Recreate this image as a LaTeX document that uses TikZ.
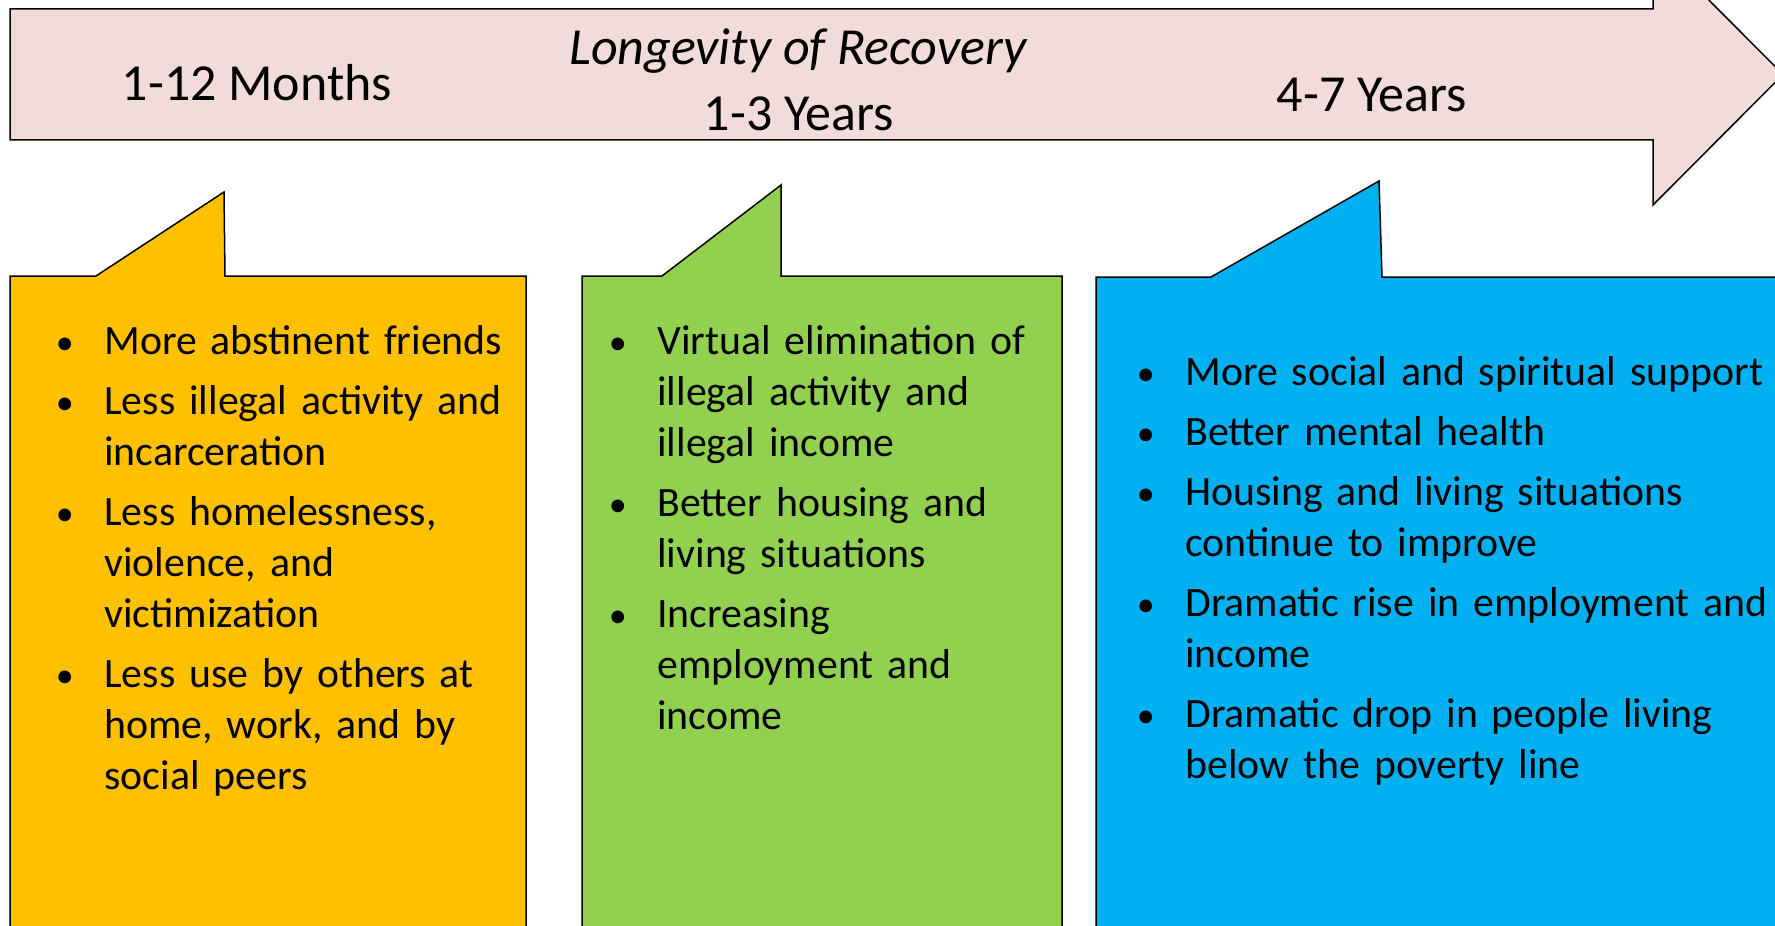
\documentclass[tikz,border=0pt]{standalone}
\usepackage{fontspec}
\setmainfont{Carlito}
\usepackage{tikz}

\definecolor{arrowpink}{HTML}{F2DCDB}
\definecolor{boxorange}{HTML}{FFC000}
\definecolor{boxgreen}{HTML}{92D050}
\definecolor{boxblue}{HTML}{00B0F0}

%Aufzaehlungspunkt links neben dem Text
\newcommand{\bul}{\leavevmode\llap{\makebox[0pt][c]{\fontsize{18pt}{18pt}\selectfont\textbullet}\hspace{19.75pt}}}

\tikzset{
	outline/.style={draw=black, line width=0.75pt, line join=miter},
	titletext/.style={font=\fontsize{26pt}{31pt}\selectfont, inner sep=0pt, anchor=base},
	listtext/.style={font=\fontsize{20.9pt}{25.5pt}\selectfont, inner sep=0pt, anchor=base west, align=left}
}

\begin{document}
\begin{tikzpicture}
		[
		x=0.5pt, y=-0.5pt, line cap=butt
		%Koordinaten in Bildpunkten, y nach unten
		]
		
		\useasboundingbox (0,0) rectangle (1775,925);
		\clip (0,0) rectangle (1775,925);
		
		%Zeitpfeil
		\filldraw[outline, fill=arrowpink] (10,9) -- (1653,9) -- (1653,-56) -- (1783,74.5)
		-- (1653,205) -- (1653,140) -- (10,140) -- cycle;
		
		%Sprechblase gelb
		\filldraw[outline, fill=boxorange] (10,940) -- (10,276) -- (96,276) -- (224,192)
		-- (225,276) -- (526,276) -- (526,940);
		%Sprechblase gruen
		\filldraw[outline, fill=boxgreen] (582,940) -- (582,276) -- (662,276) -- (781,185)
		-- (781,276) -- (1062,276) -- (1062,940);
		%Sprechblase blau
		\filldraw[outline, fill=boxblue] (1096,940) -- (1096,277) -- (1211,277) -- (1379,181)
		-- (1382,277) -- (1790,277) -- (1790,940);
		
		%Beschriftung Pfeil
		\node[titletext] (months) at (257,101) {1-12 Months};
		\node[titletext] (title) at (798,65) {\itshape Longevity of Recovery};
		\node[titletext] (years) at (799,131) {1-3 Years};
		\node[titletext] (lateyears) at (1372,112) {4-7 Years};
		
		%Listen
		\node[listtext, text width=215pt] (earlylist) at (104,354) {
			\bul More abstinent friends\\[4.5pt]
			\bul Less illegal activity and\\ incarceration\\[4.5pt]
			\bul Less homelessness,\\ violence, and\\ victimization\\[4.5pt]
			\bul Less use by others at\\ home, work, and by\\ social peers};
		\node[listtext, text width=205pt] (midlist) at (657,354) {
			\bul Virtual elimination of\\ illegal activity and\\ illegal income\\[4.5pt]
			\bul Better housing and\\ living situations\\[4.5pt]
			\bul Increasing\\ employment and\\ income};
		\node[listtext, text width=300pt] (latelist) at (1185,385) {
			\bul More social and spiritual support\\[4.5pt]
			\bul Better mental health\\[4.5pt]
			\bul Housing and living situations\\ continue to improve\\[4.5pt]
			\bul Dramatic rise in employment and\\ income\\[4.5pt]
			\bul Dramatic drop in people living\\ below the poverty line};
	\end{tikzpicture}
\end{document}
